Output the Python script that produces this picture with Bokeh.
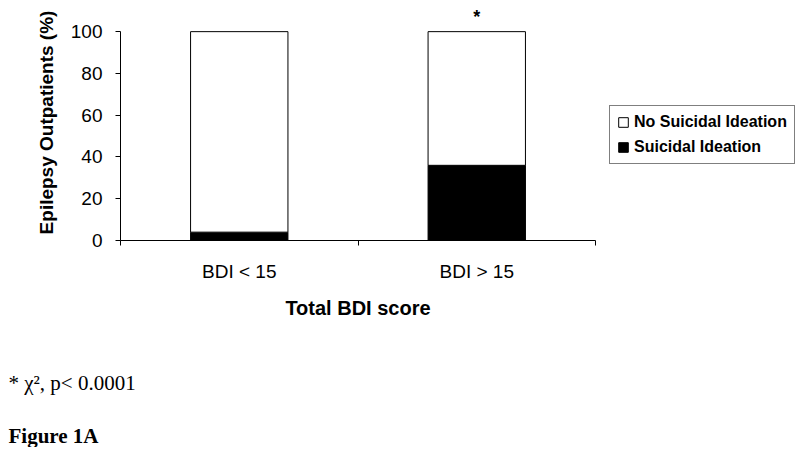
from bokeh.plotting import figure
from bokeh.models import (ColumnDataSource, Range1d, FixedTicker, Legend, LegendItem,
                          Title)
from bokeh.core.properties import value
from bokeh.embed import file_html
from bokeh.resources import INLINE

# ---- data ----
categories = ["BDI < 15", "BDI > 15"]
suicidal = [4, 36]
no_suicidal = [96, 64]
significance = ["", "*"]
y_ticks = [0, 20, 40, 60, 80, 100]
footnote = "* \u03c7\u00b2, p< 0.0001"
figure_label = "Figure 1A"

xpos = [i + 0.5 for i in range(len(categories))]
src = ColumnDataSource(dict(x=xpos, suicidal=suicidal, no_suicidal=no_suicidal,
                            total=[a + b for a, b in zip(suicidal, no_suicidal)],
                            sig=significance))

SANS = "Liberation Sans"
SERIF = "Liberation Serif"

p = figure(frame_width=475, frame_height=236, output_backend="svg", toolbar_location=None,
           x_range=Range1d(0, len(categories)), y_range=Range1d(0, 113),
           min_border_left=120, min_border_right=205, min_border_top=4, min_border_bottom=0)
p.outline_line_color = None
p.background_fill_color = "white"
p.border_fill_color = "white"
p.xgrid.visible = False
p.ygrid.visible = False

rs = p.vbar_stack(["suicidal", "no_suicidal"], x="x", width=0.41, source=src,
                  fill_color=["black", "white"], line_color="black", line_width=1)

p.text(x="x", y="total", text="sig", source=src, text_font=value(SANS),
       text_font_size="18px", text_font_style="bold", text_align="center",
       text_baseline="alphabetic", y_offset=-15, text_color="black")

# axes
ya = p.yaxis[0]
ya.ticker = FixedTicker(ticks=y_ticks, minor_ticks=[])
ya.bounds = (0, 100)
ya.axis_label = "Epilepsy Outpatients (%)"
ya.axis_label_text_font = SANS
ya.axis_label_text_font_style = "bold"
ya.axis_label_text_font_size = "19px"
ya.axis_label_standoff = 11
ya.major_label_text_font = SANS
ya.major_label_text_font_size = "19px"
ya.major_label_standoff = 13
ya.major_tick_out = 5
ya.major_tick_in = 0
ya.axis_line_color = "black"
ya.major_tick_line_color = "black"
ya.major_label_text_color = "black"
ya.axis_label_text_color = "black"

xa = p.xaxis[0]
xa.ticker = FixedTicker(ticks=xpos, minor_ticks=list(range(len(categories) + 1)))
xa.major_label_overrides = {x: c for x, c in zip(xpos, categories)}
xa.bounds = (0, len(categories))
xa.major_tick_out = 0
xa.major_tick_in = 0
xa.minor_tick_out = 5
xa.minor_tick_in = 0
xa.minor_tick_line_color = "black"
xa.axis_line_color = "black"
xa.major_label_text_font = SANS
xa.major_label_text_font_size = "19px"
xa.major_label_standoff = 15
xa.major_label_text_color = "black"
xa.axis_label = "Total BDI score"
xa.axis_label_text_font = SANS
xa.axis_label_text_font_style = "bold"
xa.axis_label_text_font_size = "20px"
xa.axis_label_standoff = 12
xa.axis_label_text_color = "black"

legend = Legend(items=[LegendItem(label="No Suicidal Ideation", renderers=[rs[1]]),
                       LegendItem(label="Suicidal Ideation", renderers=[rs[0]])],
                location=(14, 76), orientation="vertical",
                label_text_font=SANS, label_text_font_size="16px",
                label_text_font_style="bold", label_text_color="black",
                glyph_width=12, glyph_height=12, label_standoff=5,
                padding=7, spacing=7, margin=0,
                border_line_color="black", border_line_width=1,
                background_fill_color="white", background_fill_alpha=1.0)
p.add_layout(legend, "right")

spacer = Title(text=" ", text_font_size="1px", standoff=17)
t1 = Title(text=footnote, align="left", offset=-112, standoff=54,
           text_font=SERIF, text_font_size="21px", text_font_style="normal",
           text_color="black")
t2 = Title(text=figure_label, align="left", offset=-112, standoff=0,
           text_font=SERIF, text_font_size="21px", text_font_style="bold",
           text_color="black")
p.add_layout(spacer, "below")
p.add_layout(t1, "below")
p.add_layout(t2, "below")

open("out.html", "w").write(file_html(p, INLINE))
